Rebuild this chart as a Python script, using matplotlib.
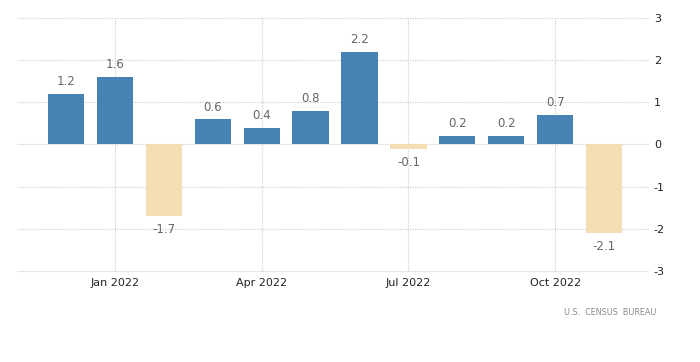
import numpy as np
import matplotlib.pyplot as plt

# Monthly change, Dec 2021 - Nov 2022
months = ['Dec 2021', 'Jan 2022', 'Feb 2022', 'Mar 2022', 'Apr 2022', 'May 2022',
          'Jun 2022', 'Jul 2022', 'Aug 2022', 'Sep 2022', 'Oct 2022', 'Nov 2022']
values = [1.2, 1.6, -1.7, 0.6, 0.4, 0.8, 2.2, -0.1, 0.2, 0.2, 0.7, -2.1]
tick_months = ['Jan 2022', 'Apr 2022', 'Jul 2022', 'Oct 2022']
yticks = [-3, -2, -1, 0, 1, 2, 3]
source = 'U.S.  CENSUS  BUREAU'

blue = '#4682B4'
beige = '#F5DEB3'

fig = plt.figure(figsize=(7, 3.62), dpi=100)
ax = fig.add_axes([0.0243, 0.2514, 0.9017, 0.699])

x = np.arange(len(values))
colors = [blue if v >= 0 else beige for v in values]
ax.bar(x, values, width=0.74, color=colors, zorder=2)

for xi, v in zip(x, values):
    if v >= 0:
        ax.annotate(f'{v:.1f}', (xi, v), xytext=(0, 4), textcoords='offset points',
                    ha='center', va='bottom', fontsize=8.5, color='#666666')
    else:
        ax.annotate(f'{v:.1f}', (xi, v), xytext=(0, -5), textcoords='offset points',
                    ha='center', va='top', fontsize=8.5, color='#666666')

ax.set_xlim(-1.0, 11.9)
ax.set_ylim(-3, 3)
ax.set_yticks(yticks)
ax.set_yticklabels([str(t) for t in yticks])
ax.set_xticks([months.index(m) for m in tick_months])
ax.set_xticklabels(tick_months)

ax.yaxis.tick_right()
ax.tick_params(axis='y', length=0, pad=4, labelsize=8, labelcolor='#222222')
ax.tick_params(axis='x', length=0, pad=5, labelsize=8, labelcolor='#222222')

ax.grid(True, axis='both', color='#d0d0d0', linestyle=(0, (1, 1)), linewidth=0.9, zorder=0)
for line in ax.get_xgridlines() + ax.get_ygridlines():
    line.set_clip_on(False)
for s in ax.spines.values():
    s.set_visible(False)

fig.text(0.937, 0.138, source, ha='right', va='center', fontsize=5.8, color='#888888')

plt.savefig('out.png', dpi=100)
